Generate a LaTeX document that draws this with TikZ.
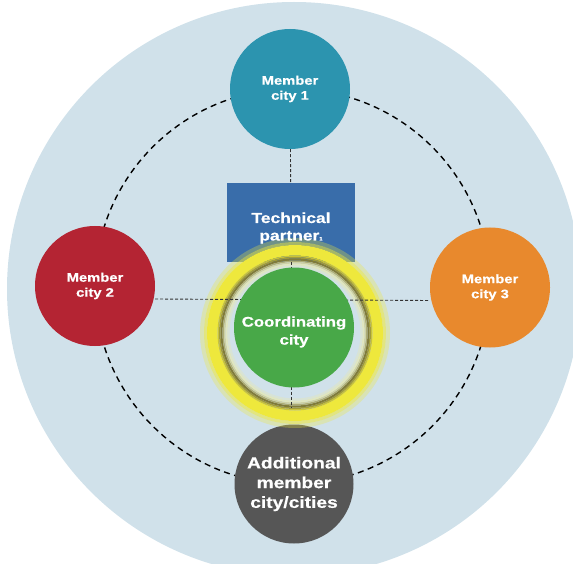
\documentclass[tikz,border=0pt]{standalone}
\usepackage{fontspec}
\setmainfont{Liberation Sans}
\newfontfamily\cityfont[FakeStretch=1.2, FakeBold=0.6]{Liberation Sans}
\definecolor{bgblue}{HTML}{D0E1EA}
\definecolor{cityteal}{HTML}{2C94AF}
\definecolor{cityred}{HTML}{B42433}
\definecolor{cityorange}{HTML}{E8892D}
\definecolor{citygray}{HTML}{565656}
\definecolor{coordgreen}{HTML}{48A848}
\definecolor{partnerblue}{HTML}{396DAA}
\definecolor{ringyellow}{HTML}{EEE83C}
\definecolor{ringdark}{HTML}{807B3A}
\definecolor{ringpale}{HTML}{E0E6C0}
\tikzset{
  city/.style={circle, minimum size=120pt, inner sep=0pt, align=center,
    text=white, font=\cityfont\bfseries\fontsize{12.3}{15}\selectfont},
  partnerbox/.style={rectangle, minimum width=128pt, minimum height=78pt,
    inner sep=0pt, fill=partnerblue},
  whitetext/.style={text=white, align=center, inner sep=0pt},
  orbit/.style={dash pattern=on 6pt off 4.5pt, line width=1.4pt},
  crossline/.style={dash pattern=on 3pt off 2pt, line width=0.9pt, black!80},
  band/.style={even odd rule}
}
\begin{document}
\begin{tikzpicture}[x=1pt,y=-1pt]
        \useasboundingbox (0,0) rectangle (573,564);
        \clip (0,0) rectangle (573,564);
        % Background
        \fill[bgblue] (294,289) circle[radius=287pt];
        \coordinate (hub) at (292.5,286.5);
        \coordinate (ringc) at (295,333);
        \draw[orbit] (hub) circle[radius=197.5pt];
        % Member cities
        \node[city, fill=cityteal] (m1) at (290,89) {Member\\city 1};
        \node[city, fill=cityred] (m2) at (95,286) {Member\\city 2};
        \node[city, fill=cityorange] (m3) at (490,287.5) {Member\\city 3};
        \node[city, minimum size=119pt, fill=citygray, font=\cityfont\bfseries\fontsize{16}{19.7}\selectfont] (add) at (294,484) {Additional\\member\\city/cities};
        % Technical partner
        \node[partnerbox] (tp) at (291,222.5) {};
        \draw[crossline] (m1) -- (tp);
        % Ring round the coordinating city
        \fill[band, ringyellow, opacity=0.3] (ringc) circle[radius=95pt] circle[radius=91pt];
        \fill[band, ringyellow, opacity=0.6] (ringc) circle[radius=91pt] circle[radius=88pt];
        \fill[band, ringyellow] (ringc) circle[radius=88pt] circle[radius=77.5pt];
        \fill[band, ringyellow!65!ringdark] (ringc) circle[radius=77.5pt] circle[radius=76pt];
        \fill[band, ringyellow!30!ringdark] (ringc) circle[radius=76pt] circle[radius=74.5pt];
        \fill[band, ringdark] (ringc) circle[radius=74.5pt] circle[radius=72.5pt];
        \fill[band, ringdark!55!ringpale] (ringc) circle[radius=72.5pt] circle[radius=71pt];
        \fill[band, ringdark!20!ringpale] (ringc) circle[radius=71pt] circle[radius=69.5pt];
        \fill[band, ringpale] (ringc) circle[radius=69.5pt] circle[radius=67.5pt];
        \fill[band, ringpale!50!bgblue] (ringc) circle[radius=67.5pt] circle[radius=65.5pt];
        \coordinate (ringbottom) at (291,407);
        \draw[crossline] (tp) -- (ringbottom);
        \draw[crossline] ([yshift=-13pt]m2.east) -- ([yshift=-13pt]m3.west);
        % Coordinating city
        \node[city, fill=coordgreen] (coord) at (294,327.5) {};
        \node[whitetext, font=\cityfont\bfseries\fontsize{14}{18}\selectfont] (coordtext) at ([yshift=-4.5pt]coord.center) {Coordinating\\city};
        \node[whitetext, font=\cityfont\bfseries\fontsize{14.5}{17.5}\selectfont] (tptext) at ([yshift=-5.5pt]tp.center) {Technical\\partner{\fontsize{5}{5}\selectfont 1}};

    \end{tikzpicture}
\end{document}
